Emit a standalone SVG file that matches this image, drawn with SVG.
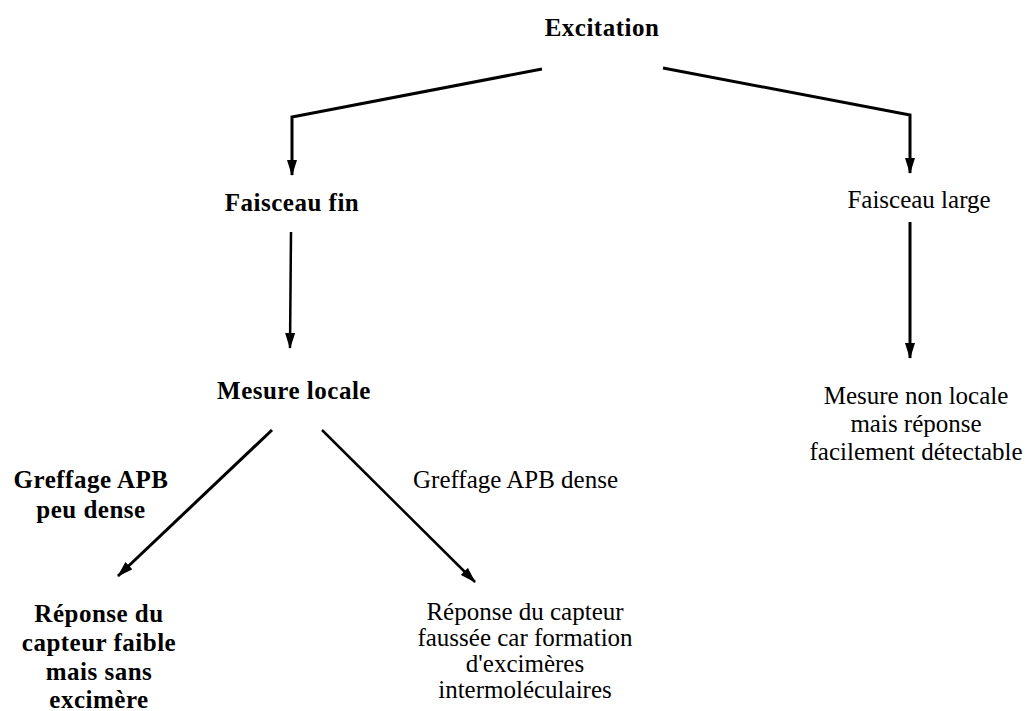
<svg xmlns="http://www.w3.org/2000/svg" width="1029" height="711" viewBox="0 0 1029 711">
<defs>
<marker id="arrv" viewBox="0 0 16 10" markerWidth="16" markerHeight="10" refX="15" refY="5" orient="auto" markerUnits="userSpaceOnUse">
<path d="M0,0 L16,5 L0,10 Z" fill="#000"/>
</marker>
<style>
text{font-family:"Liberation Serif","Times New Roman",serif;font-size:25px;fill:#000;text-anchor:middle}
.b{font-weight:bold;letter-spacing:0.5px}
.s{text-anchor:start}
.c{fill:none;stroke:#000;stroke-width:3}
.t{fill:none;stroke:#000;stroke-width:2.5}
</style>
</defs>
<rect width="1029" height="711" fill="#fff"/>
<g id="connectors">
<polyline class="c" points="542,69 292,117 292,175" marker-end="url(#arrv)"/>
<polyline class="c" points="663,68 910,115 910,173" marker-end="url(#arrv)"/>
<line class="t" x1="291" y1="232" x2="290" y2="348" marker-end="url(#arrv)"/>
<line class="c" x1="910" y1="222" x2="910" y2="358" marker-end="url(#arrv)"/>
<line class="c" x1="272" y1="430" x2="118" y2="576" marker-end="url(#arrv)"/>
<line class="t" x1="322" y1="430" x2="475" y2="582" marker-end="url(#arrv)"/>
</g>
<g id="excitation"><text class="b" x="602" y="36">Excitation</text></g>
<g id="faisceau-fin"><text class="b" x="292" y="211">Faisceau fin</text></g>
<g id="faisceau-large"><text x="919" y="208">Faisceau large</text></g>
<g id="mesure-locale"><text class="b" x="294" y="399">Mesure locale</text></g>
<g id="mesure-non-locale"><text x="916" y="404">Mesure non locale</text><text x="916" y="432">mais réponse</text><text x="916" y="460">facilement détectable</text></g>
<g id="greffage-peu-dense"><text class="b" x="91" y="488">Greffage APB</text><text class="b" x="91" y="518">peu dense</text></g>
<g id="greffage-dense"><text class="s" x="413" y="488">Greffage APB dense</text></g>
<g id="reponse-faible"><text class="b" x="99" y="622">Réponse du</text><text class="b" x="99" y="651">capteur faible</text><text class="b" x="99" y="680">mais sans</text><text class="b" x="99" y="708">excimère</text></g>
<g id="reponse-faussee"><text x="525" y="620">Réponse du capteur</text><text x="525" y="646">faussée car formation</text><text x="525" y="672">d'excimères</text><text x="525" y="698">intermoléculaires</text></g>
</svg>
